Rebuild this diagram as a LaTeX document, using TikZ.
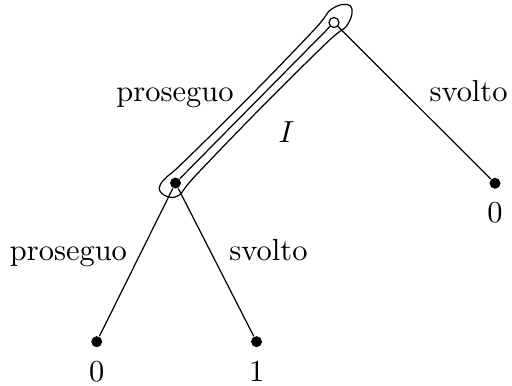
\documentclass[tikz,border=0pt]{standalone}
\begin{document}
\begin{tikzpicture}[
    dot/.style={circle, fill, inner sep=0pt, minimum size=3.6pt},
    odot/.style={circle, draw, fill=white, inner sep=0pt, minimum size=3.3pt},
    lbl/.style={anchor=base}
]

    \useasboundingbox (0,0) rectangle (5.908,-4.443);

    \node[odot] (a) at (3.854,-0.260) {};
    \node[dot]  (b) at (2.025,-2.112) {};
    \node[dot]  (c) at (5.712,-2.115) {};
    \node[dot]  (d) at (1.116,-3.943) {};
    \node[dot]  (e) at (2.960,-3.943) {};

    \draw (a) -- (b);
    \draw (a) -- (c);
    \draw (b) -- (d);
    \draw (b) -- (e);

    % information set
    \begin{scope}[shift={(b)}, rotate=45.36]
        \draw plot[smooth cycle, tension=0.7] coordinates {
            (-0.196,0.035) (-0.092,0.121) (0.231,0.104) (1.304,0.092)
            (2.377,0.104) (2.700,0.127) (2.873,0) (2.700,-0.127)
            (2.377,-0.104) (1.304,-0.092) (0.231,-0.104) (-0.092,-0.121)};
    \end{scope}

    \node[lbl] (pa) at (2.019,-1.177) {proseguo};
    \node[lbl] (sa) at (5.406,-1.177) {svolto};
    \node[lbl] (set) at (3.306,-1.650) {$I$};
    \node[lbl] (pb) at (0.790,-3.006) {proseguo};
    \node[lbl] (sb) at (3.098,-3.006) {svolto};

    \node[lbl] (vc) at (5.712,-2.573) {0};
    \node[lbl] (vd) at (1.116,-4.402) {0};
    \node[lbl] (ve) at (2.962,-4.402) {1};

\end{tikzpicture}
\end{document}
